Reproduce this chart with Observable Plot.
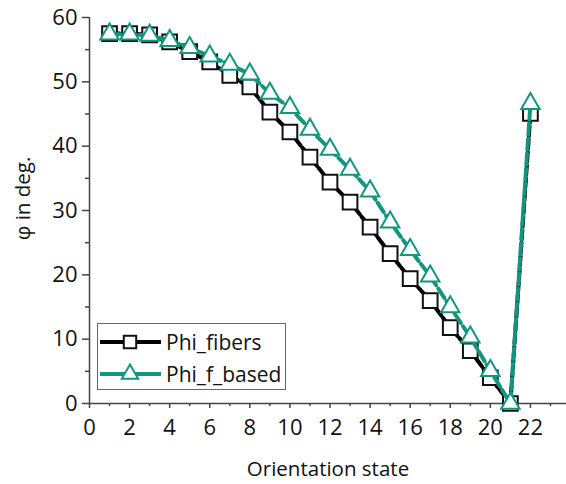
<!DOCTYPE html>
<html>
<head>
<meta charset="utf-8">
<script src="https://cdn.jsdelivr.net/npm/d3@7"></script>
<script src="https://cdn.jsdelivr.net/npm/@observablehq/plot@0.6"></script>
<style>
  html, body { margin: 0; padding: 0; background: white; overflow: hidden; }
  #wrap { position: relative; width: 566px; height: 484px; font-family: "Open Sans", sans-serif; }
  #legend { position: absolute; left: 97px; top: 323px; width: 189px; height: 67px; border: 1px solid #666; background: white; box-sizing: border-box; }
</style>
</head>
<body>
<div id="wrap"><div id="chart"></div><div id="legend"></div></div>
<script>
const states = [1,2,3,4,5,6,7,8,9,10,11,12,13,14,15,16,17,18,19,20,21,22];
const phiFibers = [57.5,57.5,57.3,56.2,54.7,53.1,51.0,49.2,45.3,42.2,38.3,34.4,31.3,27.4,23.3,19.4,16.0,11.8,8.2,4.0,0,45.1];
const phiFBased = [57.4,57.4,57.2,56.4,55.3,54.0,52.7,51.2,48.2,46.0,42.6,39.5,36.4,33.0,28.2,23.9,19.8,15.0,10.3,5.1,0,46.6];
const seriesNames = ["Phi_fibers", "Phi_f_based"];
const xMajorTicks = [0,2,4,6,8,10,12,14,16,18,20,22];
const xMinorTicks = [1,3,5,7,9,11,13,15,17,19,21,23];
const yMajorTicks = [0,10,20,30,40,50,60];
const yMinorTicks = [5,15,25,35,45,55];
const xLabel = "Orientation state";
const yLabel = "φ in deg.";

const teal = "#12967f";
const axisColor = "#444";
const font = "'Open Sans', sans-serif";

const fibers = states.map((s, i) => ({x: s, y: phiFibers[i]}));
const fbased = states.map((s, i) => ({x: s, y: phiFBased[i]}));

const chart = Plot.plot({
  width: 566,
  height: 484,
  marginLeft: 89,
  marginRight: 0,
  marginTop: 17,
  marginBottom: 81,
  x: {domain: [0, 23.8], label: null},
  y: {domain: [0, 60], label: null},
  style: {fontFamily: font, fontSize: "22px", color: "#111", background: "white"},
  marks: [
    Plot.axisX({ticks: xMajorTicks, tickSize: 5, tickPadding: 11, stroke: axisColor, strokeWidth: 1.5, fill: "#111", fontSize: 22, label: null}),
    Plot.axisX({ticks: xMinorTicks, tickSize: 3, tickFormat: () => "", stroke: axisColor, strokeWidth: 1.5, label: null}),
    Plot.axisY({ticks: yMajorTicks, tickSize: 7, tickPadding: 5, stroke: axisColor, strokeWidth: 1.5, fill: "#111", fontSize: 22, label: null}),
    Plot.axisY({ticks: yMinorTicks, tickSize: 4, tickFormat: () => "", stroke: axisColor, strokeWidth: 1.5, label: null}),
    Plot.ruleY([0], {stroke: axisColor, strokeWidth: 1.5}),
    Plot.ruleX([0], {y1: 0, y2: 60, stroke: axisColor, strokeWidth: 1.5}),
    Plot.text([xLabel], {frameAnchor: "bottom", lineAnchor: "middle", textAnchor: "middle", dy: 66, fontSize: 20.5, fill: "#111"}),
    Plot.text([yLabel], {frameAnchor: "left", lineAnchor: "middle", textAnchor: "middle", dx: -66, dy: -12, rotate: -90, fontSize: 20.5, fill: "#111"}),
    Plot.line(fibers, {x: "x", y: "y", stroke: "#000", strokeWidth: 4, strokeDasharray: "10,3"}),
    Plot.dot(fibers, {x: "x", y: "y", symbol: "square", r: 8.3, stroke: "#111", strokeWidth: 2, fill: "white"}),
    Plot.line(fbased, {x: "x", y: "y", stroke: teal, strokeWidth: 4, strokeDasharray: "11,4"}),
    Plot.dot(fbased, {x: "x", y: "y", symbol: "triangle2", r: 8.8, stroke: teal, strokeWidth: 2, fill: "white"})
  ]
});
document.getElementById("chart").appendChild(chart);

// Legend
const legendItems = [
  {name: seriesNames[0], color: "#000", markerStroke: "#111", symbol: d3.symbolSquare, r: 7},
  {name: seriesNames[1], color: teal, markerStroke: teal, symbol: d3.symbolTriangle2, r: 7.8}
];
const lsvg = d3.select("#legend").append("svg").attr("width", 187).attr("height", 65)
  .style("position", "absolute").style("left", "0px").style("top", "0px");
legendItems.forEach((d, i) => {
  const cy = 18 + i * 32;
  const g = lsvg.append("g").attr("transform", `translate(0,${cy})`);
  g.append("line").attr("x1", 2).attr("x2", 63).attr("y1", 0).attr("y2", 0)
    .attr("stroke", d.color).attr("stroke-width", 4);
  g.append("path").attr("d", d3.symbol(d.symbol, Math.PI * d.r * d.r)())
    .attr("transform", "translate(32,0)")
    .attr("fill", "white").attr("stroke", d.markerStroke).attr("stroke-width", 2);
  g.append("text").attr("x", 68).attr("y", 0).attr("dy", "0.36em")
    .style("font-family", font).style("font-size", "21px").attr("fill", "#111")
    .text(d.name);
});
</script>
</body>
</html>
